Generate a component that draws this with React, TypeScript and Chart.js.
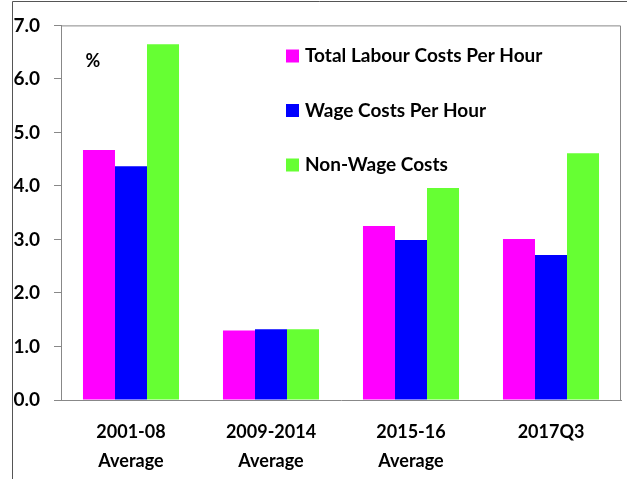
import React, { useEffect, useRef } from "react";
import { Chart, registerables } from "chart.js";

Chart.register(...registerables);

const categories: string[][] = [
  ["2001-08", "Average"],
  ["2009-2014", "Average"],
  ["2015-16", "Average"],
  ["2017Q3"],
];
const seriesNames = ["Total Labour Costs Per Hour", "Wage Costs Per Hour", "Non-Wage Costs"];
const totalLabour = [4.67, 1.3, 3.25, 3.01];
const wageCosts = [4.37, 1.32, 2.99, 2.71];
const nonWage = [6.65, 1.32, 3.96, 4.61];
const seriesColors = ["#FF00FF", "#0000FF", "#66FF33"];
const yMin = 0;
const yMax = 7;
const yStep = 1;
const unitLabel = "%";

const FONT = "Lato, 'Open Sans', sans-serif";

const decorPlugin = {
  id: "decor",
  afterDraw(chart: any) {
    const { ctx, chartArea } = chart;
    ctx.save();
    // outer frame lines
    ctx.strokeStyle = "#555555";
    ctx.lineWidth = 1;
    ctx.beginPath();
    ctx.moveTo(12.5, 479);
    ctx.lineTo(12.5, 1.5);
    ctx.lineTo(627, 1.5);
    ctx.stroke();
    // plot area box (top & right)
    ctx.strokeStyle = "#888888";
    ctx.beginPath();
    ctx.moveTo(chartArea.left + 0.5, chartArea.top + 0.5);
    ctx.lineTo(chartArea.right - 0.5, chartArea.top + 0.5);
    ctx.lineTo(chartArea.right - 0.5, chartArea.bottom);
    ctx.stroke();
    // unit label
    ctx.fillStyle = "#000";
    ctx.font = `bold 18px ${FONT}`;
    ctx.textAlign = "center";
    ctx.textBaseline = "middle";
    ctx.fillText(unitLabel, 93, 61);
    // legend
    ctx.textAlign = "left";
    ctx.font = `bold 19px ${FONT}`;
    chart.data.datasets.forEach((ds: any, i: number) => {
      const cy = 56 + i * 54.5;
      ctx.fillStyle = ds.backgroundColor;
      ctx.fillRect(286, cy - 6.5, 13, 13);
      ctx.fillStyle = "#000";
      ctx.fillText(ds.label, 305, cy);
    });
    ctx.restore();
  },
};

export default function App() {
  const ref = useRef<HTMLCanvasElement | null>(null);
  useEffect(() => {
    if (!ref.current) return;
    const chart = new Chart(ref.current, {
      type: "bar",
      data: {
        labels: categories,
        datasets: [totalLabour, wageCosts, nonWage].map((d, i) => ({
          label: seriesNames[i],
          data: d,
          backgroundColor: seriesColors[i],
          borderWidth: 0,
          barPercentage: 1,
          categoryPercentage: 0.686,
        })),
      },
      options: {
        responsive: false,
        animation: false,
        layout: { padding: { left: 0, top: 19, right: 6, bottom: 0 } },
        plugins: {
          legend: { display: false },
          tooltip: { enabled: false },
        },
        scales: {
          x: {
            grid: { display: false, drawTicks: false },
            border: { display: true, color: "#888888" },
            ticks: {
              color: "#000",
              font: { family: FONT, size: 18, weight: "bold", lineHeight: 1.6 },
              padding: 18,
              maxRotation: 0,
              autoSkip: false,
            },
            afterFit(scale: any) {
              scale.height = 79;
            },
          },
          y: {
            min: yMin,
            max: yMax,
            grid: { display: true, drawOnChartArea: false, drawTicks: true, tickLength: 7, color: "#888888" },
            border: { display: true, color: "#888888" },
            ticks: {
              stepSize: yStep,
              color: "#000",
              font: { family: FONT, size: 19, weight: "bold" },
              padding: 14,
              callback: (v: any) => Number(v).toFixed(1),
            },
            afterFit(scale: any) {
              scale.width = 61;
            },
          },
        },
      },
      plugins: [decorPlugin],
    });
    return () => chart.destroy();
  }, []);
  return (
    <div style={{ position: "fixed", left: 0, top: 0, width: 627, height: 479, background: "#fff" }}>
      <canvas ref={ref} width={627} height={479} />
    </div>
  );
}
